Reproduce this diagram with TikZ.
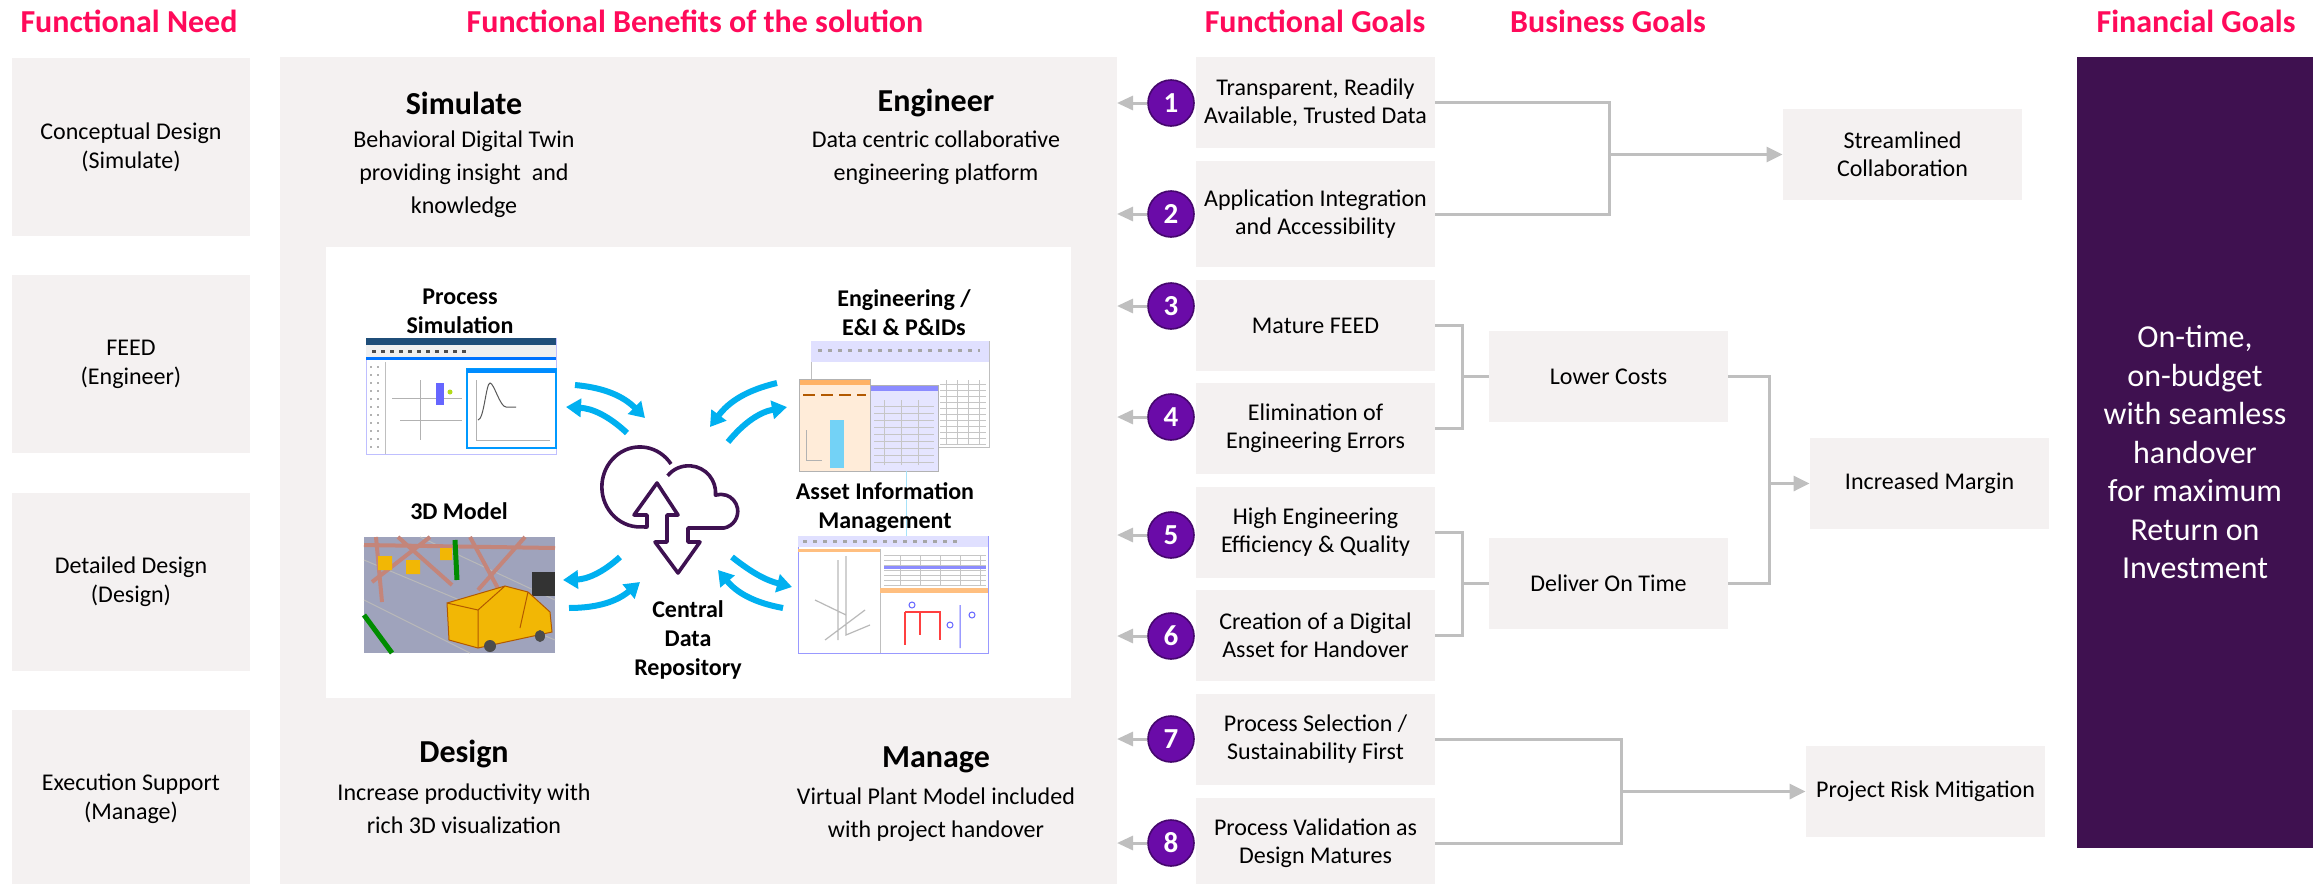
\documentclass[tikz,border=0pt]{standalone}
\usepackage{fontspec}
\setmainfont{Carlito}
\usepackage{tikz}
\usetikzlibrary{arrows.meta,positioning,calc}
\definecolor{headred}{HTML}{FF0A5A}
\definecolor{boxgray}{HTML}{F4F1F1}
\definecolor{plum}{HTML}{3F1150}
\definecolor{numviolet}{HTML}{6A0BA8}
\definecolor{linegray}{HTML}{BFBFBF}
\definecolor{skyblue}{HTML}{00B0F0}
\definecolor{cloudline}{HTML}{3E1151}
\definecolor{modelgray}{HTML}{9FA3BC}
\definecolor{beam}{HTML}{C4857A}
\definecolor{vanyellow}{HTML}{F2B705}
\definecolor{winblue}{HTML}{1F4E79}

\begin{document}
\begin{tikzpicture}[x=0.5pt,y=0.5pt,
  head/.style={text=headred,font=\fontsize{16}{19}\selectfont\bfseries},
  need/.style={fill=boxgray,minimum width=119pt,minimum height=89pt,align=center,font=\fontsize{12}{14.5}\selectfont},
  goal/.style={fill=boxgray,minimum width=119.5pt,minimum height=45.5pt,inner sep=0pt,align=center,font=\fontsize{12}{14}\selectfont},
  num/.style={circle,fill=numviolet,draw=numviolet!65!black,line width=0.8pt,minimum size=23pt,inner sep=0pt,text=white,font=\fontsize{14.5}{14.5}\selectfont\bfseries},
  back/.style={linegray,line width=1.5pt,-{Triangle[length=8pt,width=7pt]}},
  conn/.style={linegray,line width=1.5pt},
  lead/.style={linegray,line width=1.5pt,-{Triangle[length=8pt,width=7.5pt]}},
  swap/.style={skyblue,line width=3pt,-{Triangle[length=7.5pt,width=9pt]}},
  benefit/.style={font=\fontsize{16}{19}\selectfont\bfseries},
  desc/.style={align=center,font=\fontsize{12}{16.5}\selectfont},
  tool/.style={align=center,font=\fontsize{12}{14.5}\selectfont\bfseries}]
\useasboundingbox (0,0) rectangle (2315,-884);

\node[head] (hneed) at (129,-21) {Functional Need};
\node[head] (hbenefit) at (695,-21) {Functional Benefits of the solution};
\node[head] (hfgoal) at (1315,-21) {Functional Goals};
\node[head] (hbgoal) at (1608,-21) {Business Goals};
\node[head] (hfin) at (2196,-21) {Financial Goals};

\node[need] (n1) at (131,-147) {Conceptual Design\\(Simulate)};
\node[need] (n2) at (131,-364) {FEED\\(Engineer)};
\node[need] (n3) at (131,-582) {Detailed Design\\(Design)};
\node[need] (n4) at (131,-799) {Execution Support\\(Manage)};

\fill[boxgray] (280,-57) rectangle (1117,-890);
\fill[white] (326,-247) rectangle (1071,-698);

\node[benefit] (simulate) at (464,-103) {Simulate};
\node[desc] (simtext) at (464,-174) {Behavioral Digital Twin\\providing insight\ \ and\\knowledge};
\node[benefit] (engineer) at (936,-103) {Engineer};
\node[desc] (engtext) at (936,-157.5) {Data centric collaborative\\engineering platform};
\node[benefit] (design) at (464,-754) {Design};
\node[desc] (destext) at (464,-808.5) {Increase productivity with\\rich 3D visualization};
\node[benefit] (manage) at (936,-760) {Manage};
\node[desc] (mantext) at (936,-814.5) {Virtual Plant Model included\\with project handover};

% process simulation screen
\fill[white] (366,-338) rectangle (556,-454);
\draw[blue!25,line width=0.4pt] (366,-338) rectangle (556,-454);
\fill[winblue] (366,-338) rectangle (556,-345);
\fill[gray!12] (366,-345) rectangle (556,-357);
\draw[gray!60!black,line width=1.5pt,dash pattern=on 2pt off 2.5pt] (372,-351) -- (470,-351);
\fill[blue!55!cyan] (366,-357) rectangle (556,-360);
\draw[gray!60,line width=1.2pt,dash pattern=on 1pt off 3pt] (371,-366) -- (371,-450);
\draw[gray!60,line width=1.2pt,dash pattern=on 1pt off 3pt] (378,-366) -- (378,-450);
\draw[gray!50] (385,-362) -- (385,-454);
\draw[gray!60] (392,-398) -- (462,-398) (400,-420) -- (462,-420) (420,-380) -- (420,-440);
\fill[blue!60] (436,-383) rectangle (444,-405);
\fill[yellow!70!green] (450,-392) circle (2.5);
\fill[white] (467,-369) rectangle (556,-448);
\draw[blue!40!cyan,line width=0.8pt] (467,-369) rectangle (556,-448);
\fill[blue!45!cyan] (467,-369) rectangle (556,-373);
\draw[gray!60] (476,-380) -- (476,-440) -- (550,-440);
\draw[gray!70!black,line width=0.5pt] (478,-420) .. controls (484,-420) and (486,-383) .. (490,-383) .. controls (494,-383) and (500,-407) .. (506,-407) -- (516,-407);
\node[tool] (procsim) at (460,-311) {Process\\Simulation};

% engineering screens
\fill[white] (811,-341) rectangle (989,-447);
\draw[gray!50,line width=0.4pt] (811,-341) rectangle (989,-447);
\fill[blue!12] (811,-341) rectangle (989,-362);
\draw[gray!70,line width=1.5pt,dash pattern=on 2pt off 3pt] (818,-350) -- (980,-350);
\draw[gray!45,line width=0.4pt,xstep=11,ystep=6] (940,-380) grid (986,-445);
\fill[orange!15] (799,-379) rectangle (870,-471);
\fill[orange!60] (799,-379) rectangle (870,-385);
\draw[orange!70!black,line width=1pt,dash pattern=on 6pt off 3pt] (803,-395) -- (866,-395);
\fill[cyan!55] (830,-420) rectangle (844,-468);
\draw[gray!60] (806,-430) -- (806,-460) -- (822,-460);
\fill[blue!10] (870,-385) rectangle (938,-471);
\fill[blue!45] (870,-385) rectangle (938,-391);
\draw[gray!45,line width=0.4pt,xstep=17,ystep=7] (874,-400) grid (934,-465);
\draw[gray!60,line width=0.4pt] (799,-379) rectangle (870,-471) (870,-385) rectangle (938,-471);
\node[tool] (engscreen) at (904,-313) {Engineering /\\E\&I \& P\&IDs};
\draw[cyan!35,line width=0.4pt] (906,-471) -- (906,-536);

% 3D model
\fill[modelgray] (364,-537) rectangle (555,-653);
\draw[gray!55,line width=0.5pt] (364,-600) -- (470,-653) (364,-560) -- (555,-640) (420,-537) -- (555,-600);
\draw[beam,line width=2pt] (376,-537) -- (382,-602) (398,-537) -- (452,-585) (430,-537) -- (372,-582) (470,-537) -- (500,-592) (525,-537) -- (478,-590) (364,-545) -- (555,-548);
\draw[green!55!black,line width=2.5pt] (364,-615) -- (392,-653) (455,-540) -- (457,-580);
\fill[vanyellow] (378,-556) rectangle (392,-570) (406,-560) rectangle (420,-574) (440,-548) rectangle (452,-560);
\fill[black!80] (532,-572) rectangle (555,-596);
\fill[vanyellow] (447,-603) -- (505,-586) -- (528,-592) -- (550,-612) -- (552,-632) -- (478,-648) -- (449,-640) -- cycle;
\draw[orange!70!black,line width=0.5pt] (447,-603) -- (505,-586) -- (528,-592) -- (550,-612) -- (552,-632) -- (478,-648) -- (449,-640) -- cycle (478,-610) -- (478,-648) (505,-586) -- (478,-610) -- (447,-603) (528,-592) -- (520,-628);
\fill[black!70] (490,-646) ellipse (6 and 6) (540,-636) ellipse (5 and 6);
\node[tool] (model) at (459,-511) {3D Model};

% asset information screen
\fill[white] (798,-536) rectangle (988,-653);
\draw[blue!40,line width=0.5pt] (798,-536) rectangle (988,-653);
\fill[blue!12] (798,-536) rectangle (988,-547);
\draw[gray!70,line width=1.5pt,dash pattern=on 2pt off 3pt] (803,-541) -- (960,-541);
\fill[orange!50] (798,-549) rectangle (880,-552);
\draw[gray!50] (880,-549) -- (880,-653);
\draw[gray!55,line width=0.6pt] (838,-560) -- (838,-640) (846,-556) -- (846,-635) -- (870,-625) (815,-600) -- (846,-615) (825,-640) -- (865,-610);
\draw[gray!45,line width=0.4pt,xstep=20,ystep=5] (884,-555) grid (986,-585);
\fill[blue!45] (884,-566) rectangle (986,-569);
\fill[orange!50] (880,-588) rectangle (988,-593);
\draw[red!75,line width=0.6pt] (905,-612) -- (905,-645) (905,-612) -- (940,-612) -- (940,-640) (920,-612) -- (920,-635);
\draw[blue!60,line width=0.5pt] (960,-605) -- (960,-648) (912,-605) circle (3) (950,-625) circle (3) (972,-615) circle (3);
\node[tool] (asset) at (885,-508) {Asset Information\\Management};

% cloud
\draw[cloudline,line width=1.8pt,line join=round] (671,-464) arc[start angle=35,end angle=265,x radius=38,y radius=40] -- (647,-527) -- (647,-515) -- (634,-515) -- (657,-483) -- (678,-515) -- (667,-515) -- (667,-542) -- (655,-542) -- (678,-573) -- (700,-542) -- (688,-542) -- (688,-528) -- (724,-528) arc[start angle=-79,end angle=108,radius=17] arc[start angle=-5,end angle=141,radius=27];
\node[tool] (repo) at (688,-640) {Central\\Data\\Repository};

\draw[swap] (575,-385) to[bend left=20] (645,-418);
\draw[swap] (627,-433) to[bend right=20] (566,-407);
\draw[swap] (777,-383) to[bend right=20] (710,-427);
\draw[swap] (728,-442) to[bend left=20] (787,-407);
\draw[swap] (620,-557) to[bend left=20] (563,-580);
\draw[swap] (569,-608) to[bend right=20] (640,-582);
\draw[swap] (732,-557) to[bend right=12] (792,-587);
\draw[swap] (783,-608) to[bend left=20] (718,-570);

\node[goal] (g1) at (1315.5,-102.5) {Transparent, Readily\\Available, Trusted Data};
\node[goal,minimum height=53pt] (g2) at (1315.5,-214) {Application Integration\\and Accessibility};
\node[goal] (g3) at (1315.5,-325.5) {Mature FEED};
\node[goal] (g4) at (1315.5,-428.5) {Elimination of\\Engineering Errors};
\node[goal] (g5) at (1315.5,-532.5) {High Engineering\\Efficiency \& Quality};
\node[goal] (g6) at (1315.5,-635.5) {Creation of a Digital\\Asset for Handover};
\node[goal] (g7) at (1315.5,-739) {Process Selection /\\Sustainability First};
\node[goal] (g8) at (1315.5,-843) {Process Validation as\\Design Matures};

\node[num] (c1) at (1171,-103) {1};
\node[num] (c2) at (1171,-214) {2};
\node[num] (c3) at (1171,-306) {3};
\node[num] (c4) at (1171,-417) {4};
\node[num] (c5) at (1171,-535) {5};
\node[num] (c6) at (1171,-636) {6};
\node[num] (c7) at (1171,-739) {7};
\node[num] (c8) at (1171,-843) {8};

\coordinate (pe) at (1117,0);
\draw[back] (c1) -- (c1 -| pe);
\draw[back] (c2) -- (c2 -| pe);
\draw[back] (c3) -- (c3 -| pe);
\draw[back] (c4) -- (c4 -| pe);
\draw[back] (c5) -- (c5 -| pe);
\draw[back] (c6) -- (c6 -| pe);
\draw[back] (c7) -- (c7 -| pe);
\draw[back] (c8) -- (c8 -| pe);

\node[goal] (b1) at (1902.5,-154.5) {Streamlined\\Collaboration};
\node[goal] (b2) at (1608.5,-376.5) {Lower Costs};
\node[goal] (b3) at (1608.5,-583.5) {Deliver On Time};
\node[goal] (b4) at (1929.5,-483.5) {Increased Margin};
\node[goal] (b5) at (1925.5,-791.5) {Project Risk Mitigation};

\coordinate (j1) at (1609,-154.5);
\coordinate (j2) at (1462,-376.5);
\coordinate (j3) at (1769,-483.5);
\coordinate (j4) at (1462,-583.5);
\coordinate (j5) at (1621,-791.5);
\draw[conn] (g1.east) -| (j1) |- (g2.east);
\draw[lead] (j1) -- (b1);
\draw[conn] (g3.east) -| (j2) |- (g4.east);
\draw[conn] (j2) -- (b2);
\draw[conn] (g5.east) -| (j4) |- (g6.east);
\draw[conn] (j4) -- (b3);
\draw[conn] (b2.east) -| (j3) |- (b3.east);
\draw[lead] (j3) -- (b4);
\draw[conn] (g7.east) -| (j5) |- (g8.east);
\draw[lead] (j5) -- (b5);

\node[fill=plum,minimum width=118pt,minimum height=395.5pt,text=white,align=center,font=\fontsize{16}{19.25}\selectfont] (fin) at (2195,-452.5) {On-time,\\on-budget\\with seamless\\handover\\for maximum\\Return on\\Investment};
\end{tikzpicture}
\end{document}
